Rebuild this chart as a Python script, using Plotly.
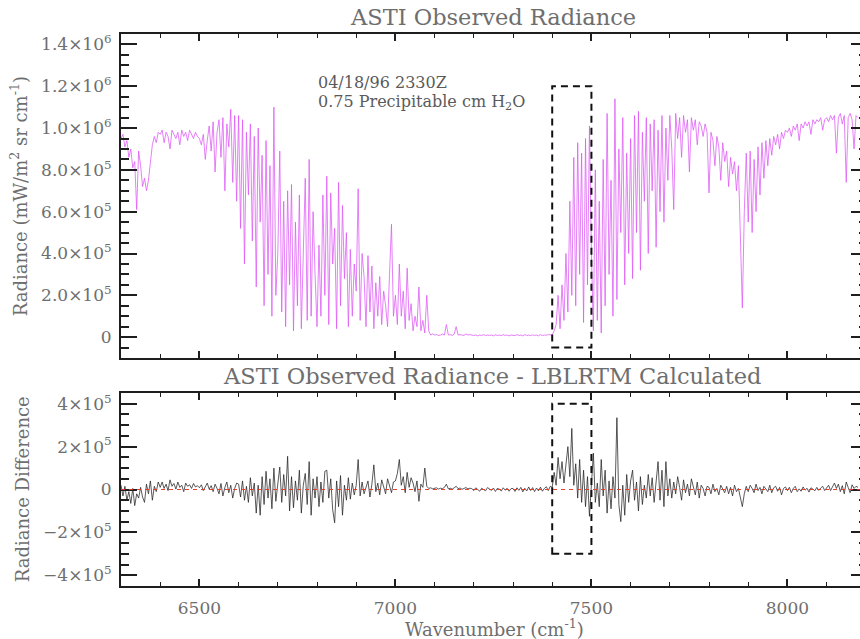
import numpy as np
import plotly.graph_objects as go

# ---------------- data ----------------
WN_START, WN_STEP, WN_END = 6300, 5, 8180   # wavenumber grid (cm^-1)

# ASTI observed radiance, units of 1e5 mW/(m2 sr cm-1), 20 values per 100 cm-1
RADIANCE_1E5 = [
    # 6300
    9.5, 9.7, 9.1, 9.4, 8.6, 9.0, 8.1, 8.4, 6.1, 8.9, 8.2, 7.2, 7.6, 7.0, 7.5, 8.4, 9.2, 9.6, 9.3, 9.8,
    # 6400
    9.7, 9.9, 9.3, 9.8, 9.6, 9.0, 9.9, 9.7, 9.5, 9.8, 9.2, 9.9, 9.6, 9.8, 9.4, 9.9, 9.7, 9.5, 9.8, 9.6,
    # 6500
    9.5, 9.2, 9.7, 8.5, 9.4, 10.1, 8.9, 10.3, 7.9, 9.8, 10.4, 8.6, 10.5, 7.0, 10.2, 9.1, 10.9, 7.4, 10.6, 6.5,
    # 6600
    10.6, 5.2, 10.4, 3.5, 9.8, 6.8, 10.2, 4.6, 9.6, 2.4, 10.0, 5.5, 8.7, 1.5, 9.4, 3.0, 8.2, 1.0, 11.0, 2.0,
    # 6700
    4.0, 8.9, 1.2, 6.5, 0.5, 7.0, 2.5, 7.3, 0.3, 5.5, 1.5, 6.8, 0.4, 4.0, 7.6, 0.8, 8.5, 1.0, 6.0, 3.0,
    # 6800
    0.5, 4.4, 1.0, 6.8, 2.0, 7.7, 0.6, 6.9, 3.5, 5.2, 0.4, 7.4, 1.5, 6.3, 2.8, 5.0, 0.5, 4.2, 1.0, 3.5,
    # 6900
    2.2, 7.1, 0.8, 4.0, 2.9, 0.5, 3.9, 1.2, 3.4, 0.4, 2.6, 1.0, 2.9, 0.6, 2.2, 1.5, 0.5, 3.0, 5.4, 1.0,
    # 7000
    2.0, 0.6, 3.5, 1.0, 2.2, 0.4, 3.3, 0.8, 1.6, 0.3, 1.0, 0.5, 2.4, 0.3, 0.8, 0.2, 2.0, 0.3, 0.1, 0.15,
    # 7100
    0.1, 0.12, 0.08, 0.1, 0.15, 0.1, 0.6, 0.1, 0.12, 0.08, 0.15, 0.5, 0.1, 0.12, 0.1, 0.08, 0.15, 0.1, 0.12, 0.1,
    # 7200
    0.08, 0.1, 0.06, 0.1, 0.08, 0.12, 0.07, 0.1, 0.08, 0.1, 0.06, 0.11, 0.08, 0.1, 0.07, 0.12, 0.08, 0.1, 0.06, 0.1,
    # 7300
    0.1, 0.07, 0.12, 0.08, 0.1, 0.06, 0.12, 0.08, 0.1, 0.07, 0.11, 0.08, 0.1, 0.06, 0.12, 0.08, 0.1, 0.09, 0.12, 0.1,
    # 7400
    0.1, 0.3, 0.6, 2.0, 0.4, 2.5, 0.8, 4.0, 1.2, 6.5, 2.0, 8.6, 1.5, 9.3, 3.0, 8.8, 0.7, 9.5, 2.5, 10.1,
    # 7500
    4.0, 0.3, 8.0, 0.8, 6.5, 0.2, 8.5, 1.5, 10.7, 3.0, 7.5, 1.0, 11.4, 1.8, 9.0, 5.0, 10.5, 2.5, 8.8, 4.0,
    # 7600
    9.5, 2.8, 10.6, 5.0, 10.8, 3.2, 9.8, 6.5, 10.5, 4.0, 10.2, 7.0, 10.4, 4.3, 9.9, 6.0, 10.6, 5.5, 10.0, 7.5,
    # 7700
    10.6, 9.0, 6.1, 10.7, 9.5, 10.5, 8.6, 10.6, 9.8, 10.4, 7.9, 10.5, 9.9, 10.4, 9.2, 10.3, 10.1, 9.6, 10.2, 9.8,
    # 7800
    6.9, 9.8, 9.4, 8.2, 9.6, 9.1, 7.5, 9.3, 8.4, 8.9, 7.2, 8.6, 7.8, 8.4, 7.0, 8.2, 5.1, 1.4, 6.0, 8.8,
    # 7900
    5.5, 8.9, 5.0, 8.5, 6.0, 9.1, 6.8, 9.3, 7.6, 9.4, 8.2, 9.5, 8.7, 9.6, 9.2, 9.7, 9.0, 9.8, 9.5, 9.9,
    # 8000
    9.8, 10.0, 9.6, 10.1, 9.9, 10.2, 9.4, 10.2, 10.0, 10.3, 10.1, 10.3, 9.7, 10.4, 10.2, 10.4, 10.3, 10.5, 9.9, 10.4,
    # 8100 - 8180
    10.5, 10.3, 10.6, 10.4, 10.6, 8.8, 10.5, 10.7, 10.2, 10.6, 7.4, 10.5, 10.7, 10.4, 9.0, 10.6, 10.5,
]

# Observed - LBLRTM calculated, units of 1e4
DIFF_1E4 = [
    # 6300
    2.0, -3.0, 1.5, -5.0, -1.0, -6.5, 0.5, -7.5, -2.0, -4.0, 1.0, -3.5, -6.0, 2.5, -2.0, 4.0, -5.0, 1.5, -1.0, 3.5,
    # 6400
    1.0, 3.5, 0.5, 2.5, -0.5, 4.5, 1.5, 2.8, 0.2, 3.5, 1.0, 2.0, -1.0, 3.0, 1.5, 2.2, 0.5, 2.8, 1.2, 1.8,
    # 6500
    0.8, 2.2, -0.5, 1.5, 3.0, 0.2, 1.8, -1.0, 2.5, 0.5, -2.0, 2.8, -3.0, 1.0, 3.5, -1.5, 2.0, -4.0, 0.5, 3.0,
    # 6600
    2.5, -3.5, 4.0, -5.0, 1.5, -6.0, 5.5, -3.0, 3.0, -11.0, 2.0, -12.0, 6.0, -7.0, 8.5, -4.0, 5.0, -9.0, 10.0, -5.5,
    # 6700
    3.0, 10.5, -6.0, 7.0, -3.0, 15.5, -10.0, 6.0, -8.5, 4.0, -5.0, 9.0, -11.0, 2.0, 7.5, -7.0, 13.0, -12.0, 5.0, -4.0,
    # 6800
    6.0, -8.0, 3.5, -6.0, 8.5, 9.0, -4.0, 5.0, -9.5, -15.5, 4.0, -8.0, 6.5, -12.0, 2.0, -5.0, 5.5, -4.5, 3.0, -2.5,
    # 6900
    2.0, 14.0, -3.0, 3.5, -2.0, 1.5, 4.0, -3.5, 2.5, 11.5, -1.0, 3.0, -2.5, 4.5, 1.0, -2.0, 5.0, 2.0, -1.5, 3.5,
    # 7000
    4.0, 7.5, 14.0, 2.0, 6.0, -1.5, 8.0, 1.0, 5.5, 3.0, -1.0, 4.0, -5.5, 2.5, 1.0, 10.0, 1.5, 0.5, 0.8, 0.3,
    # 7100
    0.5, 0.8, 0.2, 0.6, 0.4, 1.0, 2.5, 0.3, 0.6, 0.2, 0.8, 1.5, 0.4, 0.7, 0.1, 0.5, 0.9, 0.3, 0.6, 0.4,
    # 7200
    -0.5, 0.8, 0.2, -0.8, 0.6, 0.1, -0.6, 0.9, 0.3, -0.4, 0.7, -0.9, 0.5, 0.2, -0.7, 0.8, -0.3, 0.6, -0.8, 0.4,
    # 7300
    0.5, -0.9, 0.8, -0.4, 1.0, -1.1, 0.6, -0.7, 1.2, -0.5, 0.9, -1.0, 0.7, -0.6, 1.1, -0.8, 0.5, 1.3, -0.5, 1.5,
    # 7400
    1.0, 8.0, 2.0, 15.0, 5.0, 13.0, 3.0, 11.0, 20.0, 6.0, 28.5, 2.0, 12.0, -4.0, 14.0, -6.0, 9.0, -8.0, 6.0, -12.5,
    # 7500
    5.0, 17.0, -6.0, 3.0, -8.0, 14.0, -3.0, 9.0, -11.0, 4.0, -9.0, 6.0, -4.0, 33.5, -7.0, -15.0, 2.0, -12.0, 7.0, -6.0,
    # 7600
    4.0, 9.0, -5.0, 3.5, -10.0, 6.0, -7.0, 2.0, -4.0, 7.0, -3.0, 5.5, -6.0, 4.0, 13.0, -5.0, 9.0, -8.0, 13.0, -3.0,
    # 7700
    5.0, -4.0, 3.5, -2.0, 6.0, 1.0, -5.0, 4.5, -1.5, 2.5, -3.0, 5.0, 0.5, -2.5, 3.5, -4.0, 2.0, 0.5, -3.0, 1.5,
    # 7800
    1.0, -2.0, 2.5, -1.0, 0.5, -2.5, 2.0, 0.5, -1.5, 1.5, -2.0, 1.0, -3.0, 2.0, -1.0, 0.5, -4.0, -8.0, -2.0, 1.5,
    # 7900
    -1.0, 2.0, 0.5, -1.5, 2.5, -0.5, 1.0, -2.0, 1.5, 0.5, -1.0, 2.0, -1.5, 0.8, 1.5, -0.8, 1.0, -2.5, 0.5, 1.2,
    # 8000
    -0.5, 1.0, -1.5, 0.5, 1.5, -1.0, 0.3, -0.8, 1.2, -0.3, 0.6, -1.2, 0.8, 0.2, -0.6, 1.0, -0.4, 0.7, 1.5, -0.5,
    # 8100 - 8180
    0.8, 2.0, -0.5, 1.5, 3.0, 0.5, 2.5, -1.0, 1.8, -2.0, 3.5, 1.0, -1.5, 2.2, 0.5, 1.5, 1.0,
]

X_TICKS = [6500, 7000, 7500, 8000]
X_TICK_TEXT = ["6500", "7000", "7500", "8000"]
Y1_TICKS = [0, 2e5, 4e5, 6e5, 8e5, 1.0e6, 1.2e6, 1.4e6]
Y1_TICK_TEXT = ["0", "2.0×10<sup>5</sup>", "4.0×10<sup>5</sup>", "6.0×10<sup>5</sup>",
                "8.0×10<sup>5</sup>", "1.0×10<sup>6</sup>", "1.2×10<sup>6</sup>", "1.4×10<sup>6</sup>"]
Y2_TICKS = [-4e5, -2e5, 0, 2e5, 4e5]
Y2_TICK_TEXT = ["−4×10<sup>5</sup>", "−2×10<sup>5</sup>", "0", "2×10<sup>5</sup>", "4×10<sup>5</sup>"]

# The original frame runs slightly past the right edge of the 860 px picture
X_RANGE = [6300, 8203]
Y1_RANGE = [-1e5, 1.45e6]
Y2_RANGE = [-4.5e5, 4.5e5]
BOX_X = [7400, 7500]
BOX_Y1 = [-5e4, 1.2e6]
BOX_Y2 = [-3e5, 4e5]

# ---------------- build ----------------
wn = np.arange(WN_START, WN_END + 1, WN_STEP)
radiance = np.array(RADIANCE_1E5) * 1e5
diff = np.array(DIFF_1E4) * 1e4

FONT = "DejaVu Serif"
TXT = "#6e6e6e"
AX = "#1e1e1e"

x_minor = [v for v in range(6400, 8300, 100) if v not in X_TICKS]
y1_minor = [v for v in np.arange(-1e5, 1.45e6 + 1, 5e4) if not any(abs(v - t) < 1 for t in Y1_TICKS)]
y2_minor = [v for v in np.arange(-4.5e5, 4.5e5 + 1, 5e4) if not any(abs(v - t) < 1 for t in Y2_TICKS)]

fig = go.Figure()
fig.add_trace(go.Scatter(x=wn, y=radiance, mode="lines", xaxis="x", yaxis="y",
                         line=dict(color="rgba(222,85,245,0.75)", width=1),
                         showlegend=False, hoverinfo="skip"))
fig.add_trace(go.Scatter(x=wn, y=diff, mode="lines", xaxis="x2", yaxis="y2",
                         line=dict(color="rgba(35,35,35,0.75)", width=1),
                         showlegend=False, hoverinfo="skip"))

def xax(anchor, labels):
    return dict(domain=[0, 1], anchor=anchor, range=X_RANGE, showline=True, linecolor=AX, linewidth=2,
                mirror="ticks", ticks="inside", ticklen=7, tickwidth=1.5, tickcolor=AX,
                tickmode="array", tickvals=X_TICKS, ticktext=X_TICK_TEXT, showticklabels=labels,
                tickfont=dict(family=FONT, size=17, color=TXT), ticklabelstandoff=6,
                showgrid=False, zeroline=False,
                minor=dict(ticks="inside", ticklen=4, tickwidth=1, tickcolor=AX,
                           tickmode="array", tickvals=x_minor, showgrid=False))

def yax(domain, anchor, rng, tv, tt, minor):
    return dict(domain=domain, anchor=anchor, range=rng, showline=True, linecolor=AX, linewidth=2,
                mirror="ticks",
                ticks="inside", ticklen=16, tickwidth=1.5, tickcolor=AX,
                tickmode="array", tickvals=tv, ticktext=tt,
                tickfont=dict(family=FONT, size=17, color=TXT), ticklabelstandoff=4,
                showgrid=False, zeroline=False,
                minor=dict(ticks="inside", ticklen=8, tickwidth=1.5, tickcolor=AX,
                           tickmode="array", tickvals=minor, showgrid=False))

D1 = [0.413, 1.0]
D2 = [0.0, 0.3496]

fig.update_layout(
    width=869, height=639,
    margin=dict(l=121, r=0, t=34, b=53),
    paper_bgcolor="white", plot_bgcolor="white",
    hovermode=False,
    xaxis=xax("y", False),
    xaxis2=xax("y2", True),
    yaxis=yax(D1, "x", Y1_RANGE, Y1_TICKS, Y1_TICK_TEXT, y1_minor),
    yaxis2=yax(D2, "x2", Y2_RANGE, Y2_TICKS, Y2_TICK_TEXT, y2_minor),
)

box_line = dict(color="#111111", width=2, dash="7px,5px")
fig.add_shape(type="rect", xref="x", yref="y", x0=BOX_X[0], x1=BOX_X[1], y0=BOX_Y1[0], y1=BOX_Y1[1],
              line=box_line, layer="above")
fig.add_shape(type="rect", xref="x2", yref="y2", x0=BOX_X[0], x1=BOX_X[1], y0=BOX_Y2[0], y1=BOX_Y2[1],
              line=box_line, layer="above")
fig.add_shape(type="line", xref="x2 domain", yref="y2", x0=0, x1=1, y0=0, y1=0,
              line=dict(color="rgba(235,50,50,0.95)", width=1, dash="4px,4px"), layer="above")

def ann(text, x, y, size, angle=0, xanchor="center", color=TXT):
    fig.add_annotation(text=text, xref="paper", yref="paper", x=x, y=y, showarrow=False,
                       xanchor=xanchor, yanchor="middle", textangle=angle,
                       font=dict(family=FONT, size=size, color=color))

ann("ASTI Observed Radiance", 0.4987, 1.0308, 22.5)
ann("ASTI Observed Radiance - LBLRTM Calculated", 0.4973, 0.3804, 22.5)
ann("Wavenumber (cm<sup>-1</sup>)", 0.5000, -0.0760, 18)
ann("Radiance (mW/m<sup>2</sup> sr cm<sup>-1</sup>)", -0.1364, 0.7065, 18, angle=-90)
ann("Radiance Difference", -0.1324, 0.1757, 18, angle=-90)
ann("04/18/96 2330Z", 0.262, 0.913, 16, xanchor="left", color="#5a5a5a")
ann("0.75 Precipitable cm H<sub>2</sub>O", 0.262, 0.8768, 16, xanchor="left", color="#5a5a5a")

fig.write_html("out.html", config={"displayModeBar": False})
